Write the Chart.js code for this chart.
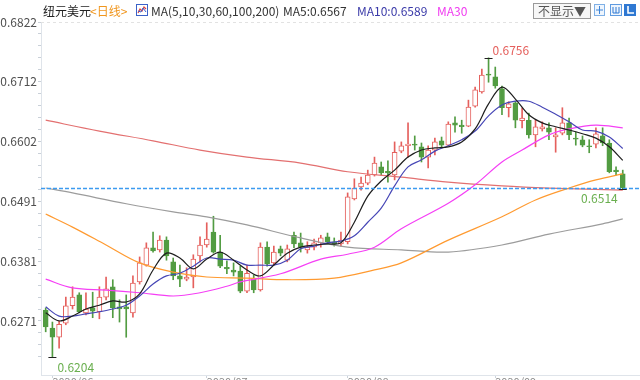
<!DOCTYPE html>
<html lang="zh">
<head>
<meta charset="UTF-8">
<script src="https://cdn.jsdelivr.net/npm/chart.js"></script>
<title>纽元美元 日线</title>
<style>
    html, body { margin: 0; padding: 0; background: #fff; }
    #wrap { position: relative; width: 640px; height: 380px; overflow: hidden; }
    #kline { position: absolute; left: 0; top: 0; }
    .lg { position: absolute; top: 3px; font: 12px "Noto Sans CJK SC", "Noto Sans", sans-serif; line-height: 16px; white-space: nowrap; color: #333; }
    .box { position: absolute; top: 3px; left: 533px; width: 56px; height: 14px; border: 1px solid #9a9a9a; background: #f7f7f7;
           font: 12px "Noto Sans CJK SC", sans-serif; line-height: 14px; color: #555; text-align: center; }
    .ico { position: absolute; top: 4px; }
</style>
</head>
<body>
<div id="wrap">
    <canvas id="kline" width="640" height="395"></canvas>

    <span class="lg" style="left:43px;color:#222">纽元美元</span>
    <span class="lg" style="left:90px;color:#f0961e">&lt;日线&gt;</span>
    <svg class="ico" style="left:136px" width="12" height="12" viewBox="0 0 12 12">
        <rect x="0.5" y="0.5" width="11" height="11" fill="#fff" stroke="#3b62c9"/>
        <polyline points="2,9 4,5 6,7 8,3 10,5" fill="none" stroke="#e0413f" stroke-width="1.2"/>
        <polyline points="2,7 5,8 7,4 10,8" fill="none" stroke="#3b62c9" stroke-width="1"/>
    </svg>
    <span class="lg" style="left:151px">MA(5,10,30,60,100,200)</span>
    <span class="lg" style="left:283px">MA5:0.6567</span>
    <span class="lg" style="left:357px;color:#3a3aa8">MA10:0.6589</span>
    <span class="lg" style="left:437px;color:#f03cf0">MA30</span>

    <div class="box">不显示▼</div>
    <svg class="ico" style="left:594px" width="11" height="12" viewBox="0 0 11 12">
        <rect x="0.5" y="0.5" width="10" height="11" fill="#eef5fd" stroke="#7fb0e6"/>
        <path d="M5.5 2v8M2 6h7" stroke="#3c84d8" stroke-width="1"/>
    </svg>
    <svg class="ico" style="left:610px" width="12" height="12" viewBox="0 0 12 12">
        <rect x="0.5" y="0.5" width="11" height="11" fill="#eef5fd" stroke="#5d9ae0"/>
        <path d="M3 3v6h6V3M6 3v6" fill="none" stroke="#2f78d2" stroke-width="1"/>
    </svg>
    <svg class="ico" style="left:624px" width="12" height="12" viewBox="0 0 12 12">
        <rect x="0" y="0" width="12" height="12" fill="#2f78d2"/>
        <path d="M4 2v7h6" fill="none" stroke="#fff" stroke-width="1.6"/>
    </svg>
</div>

<script>
    // daily OHLC, index 1 = leftmost candle
    const opens = [
        0.6291, 0.6258, 0.6241, 0.6267, 0.6299, 0.6319, 0.6286, 0.6295, 0.6288, 0.6315,
        0.6334, 0.6297, 0.6297, 0.6286, 0.6343, 0.6374, 0.6406, 0.6402, 0.6420, 0.6380,
        0.6354, 0.6348, 0.6352, 0.6391, 0.6411, 0.6435, 0.6398, 0.6370, 0.6365, 0.6363,
        0.6326, 0.6348, 0.6328, 0.6407, 0.6378, 0.6404, 0.6383, 0.6429, 0.6415, 0.6402,
        0.6407, 0.6415, 0.6426, 0.6417, 0.6413, 0.6417, 0.6496, 0.6518, 0.6525, 0.6540,
        0.6555, 0.6547, 0.6540, 0.6584, 0.6594, 0.6597, 0.6592, 0.6573, 0.6586, 0.6603,
        0.6595, 0.6636, 0.6632, 0.6630, 0.6667, 0.6693, 0.6726, 0.6721, 0.6699, 0.6664,
        0.6673, 0.6640, 0.6641, 0.6614, 0.6625, 0.6627, 0.6610, 0.6617, 0.6636, 0.6608,
        0.6605, 0.6594, 0.6597, 0.6612, 0.6599, 0.6549, 0.6542
    ];
    const highs = [
        0.6295, 0.6269, 0.6271, 0.6315, 0.6334, 0.6323, 0.6323, 0.6324, 0.6334, 0.6352,
        0.6347, 0.6310, 0.6319, 0.6354, 0.6389, 0.6415, 0.6435, 0.6428, 0.6426, 0.6387,
        0.6374, 0.6369, 0.6393, 0.6426, 0.6452, 0.6464, 0.6429, 0.6382, 0.6378, 0.6372,
        0.6374, 0.6356, 0.6415, 0.6417, 0.6409, 0.6409, 0.6411, 0.6435, 0.6433, 0.6417,
        0.6422, 0.6429, 0.6433, 0.6424, 0.6435, 0.6507, 0.6533, 0.6536, 0.6549, 0.6573,
        0.6564, 0.6566, 0.6601, 0.6601, 0.6636, 0.6612, 0.6599, 0.6594, 0.6608, 0.6610,
        0.6638, 0.6647, 0.6641, 0.6678, 0.6702, 0.6735, 0.6756, 0.6739, 0.6704, 0.6675,
        0.6676, 0.6664, 0.6654, 0.6641, 0.6638, 0.6636, 0.6627, 0.6664, 0.6645, 0.6619,
        0.6612, 0.6605, 0.6627, 0.6627, 0.6605, 0.6555, 0.6549
    ];
    const lows = [
        0.6251, 0.6204, 0.6221, 0.6264, 0.6293, 0.6286, 0.6282, 0.6277, 0.6275, 0.6310,
        0.6277, 0.6269, 0.6241, 0.6278, 0.6339, 0.6372, 0.6398, 0.6398, 0.6383, 0.6347,
        0.6334, 0.6345, 0.6332, 0.6380, 0.6407, 0.6396, 0.6369, 0.6358, 0.6354, 0.6323,
        0.6323, 0.6323, 0.6326, 0.6372, 0.6374, 0.6391, 0.6380, 0.6406, 0.6398, 0.6396,
        0.6402, 0.6407, 0.6413, 0.6409, 0.6409, 0.6413, 0.6494, 0.6512, 0.6522, 0.6538,
        0.6540, 0.6527, 0.6531, 0.6581, 0.6573, 0.6586, 0.6564, 0.6553, 0.6577, 0.6592,
        0.6594, 0.6619, 0.6617, 0.6629, 0.6665, 0.6691, 0.6711, 0.6700, 0.6651, 0.6647,
        0.6627, 0.6627, 0.6608, 0.6592, 0.6621, 0.6605, 0.6582, 0.6614, 0.6605, 0.6595,
        0.6592, 0.6581, 0.6590, 0.6594, 0.6544, 0.6540, 0.6514
    ];
    const closes = [
        0.6260, 0.6241, 0.6265, 0.6299, 0.6315, 0.6288, 0.6293, 0.6289, 0.6315, 0.6330,
        0.6295, 0.6293, 0.6293, 0.6341, 0.6378, 0.6406, 0.6400, 0.6420, 0.6391, 0.6354,
        0.6348, 0.6352, 0.6385, 0.6411, 0.6422, 0.6398, 0.6372, 0.6367, 0.6361, 0.6326,
        0.6359, 0.6328, 0.6407, 0.6376, 0.6398, 0.6396, 0.6404, 0.6413, 0.6407, 0.6407,
        0.6415, 0.6424, 0.6417, 0.6413, 0.6420, 0.6500, 0.6516, 0.6525, 0.6540, 0.6562,
        0.6544, 0.6544, 0.6582, 0.6594, 0.6597, 0.6595, 0.6573, 0.6586, 0.6601, 0.6595,
        0.6634, 0.6632, 0.6629, 0.6665, 0.6697, 0.6724, 0.6724, 0.6704, 0.6664, 0.6671,
        0.6641, 0.6645, 0.6614, 0.6629, 0.6629, 0.6619, 0.6614, 0.6636, 0.6614, 0.6606,
        0.6595, 0.6592, 0.6616, 0.6599, 0.6546, 0.6546, 0.6516
    ];

    // moving averages at the given candle indices
    const maIdx = [1, 3, 5, 7, 9, 11, 13, 15, 17, 19, 21, 23, 25, 27, 29, 31, 33, 35, 37, 39, 41, 43,
                   45, 47, 49, 51, 53, 55, 57, 59, 61, 63, 65, 67, 69, 71, 73, 75, 77, 79, 81, 83, 85, 87];
    const ma5 = [0.6286, 0.6271, 0.6280, 0.6293, 0.6300, 0.6308, 0.6306, 0.6321, 0.6365, 0.6396, 0.6387,
                 0.6367, 0.6385, 0.6398, 0.6383, 0.6365, 0.6354, 0.6374, 0.6396, 0.6407, 0.6411, 0.6413,
                 0.6415, 0.6453, 0.6501, 0.6529, 0.6549, 0.6573, 0.6586, 0.6590, 0.6592, 0.6601, 0.6625,
                 0.6671, 0.6702, 0.6680, 0.6651, 0.6636, 0.6629, 0.6623, 0.6616, 0.6608, 0.6592, 0.6567];
    const ma10 = [0.6297, 0.6280, 0.6280, 0.6284, 0.6288, 0.6293, 0.6300, 0.6317, 0.6339, 0.6354, 0.6359,
                  0.6372, 0.6387, 0.6385, 0.6383, 0.6374, 0.6374, 0.6374, 0.6383, 0.6404, 0.6409, 0.6415,
                  0.6418, 0.6428, 0.6453, 0.6479, 0.6520, 0.6555, 0.6568, 0.6584, 0.6594, 0.6605, 0.6621,
                  0.6649, 0.6669, 0.6676, 0.6676, 0.6665, 0.6652, 0.6638, 0.6623, 0.6621, 0.6610, 0.6589];
    const ma30Idx = [1, 5, 10, 15, 20, 24, 28, 30, 36, 42, 46, 50, 54, 61, 65, 69, 72, 76, 79, 83, 87];
    const ma30 = [0.6348, 0.6332, 0.6328, 0.6323, 0.6317, 0.6323, 0.6335, 0.6343, 0.6358, 0.6385, 0.6394,
                  0.6407, 0.6441, 0.6488, 0.6522, 0.6564, 0.6586, 0.6614, 0.6625, 0.6632, 0.6627];
    const ma60Idx = [1, 5, 10, 15, 20, 25, 31, 37, 44, 50, 54, 61, 69, 74, 79, 83, 87];
    const ma60 = [0.6468, 0.6444, 0.6411, 0.6378, 0.6361, 0.6352, 0.6350, 0.6347, 0.6350, 0.6365, 0.6378,
                  0.6420, 0.6463, 0.6494, 0.6516, 0.6531, 0.6542];
    const ma100Idx = [1, 5, 13, 20, 25, 31, 39, 46, 54, 61, 69, 76, 84, 87];
    const ma100 = [0.6516, 0.6507, 0.6487, 0.6472, 0.6463, 0.6448, 0.6424, 0.6407, 0.6402, 0.6398, 0.6411,
                   0.6431, 0.6450, 0.6459];
    const ma200Idx = [1, 9, 17, 24, 31, 39, 46, 54, 61, 69, 76, 87];
    const ma200 = [0.6641, 0.6621, 0.6603, 0.6586, 0.6573, 0.6562, 0.6546, 0.6536, 0.6527, 0.6520, 0.6516, 0.6512];

    // axis ticks
    const yTickVals = [0.6271, 0.6381, 0.6491, 0.6602, 0.6712, 0.6822];
    const yTickLabels = ['0.6271', '0.6381', '0.6491', '0.6602', '0.6712', '0.6822'];
    const xTickIdx = [2, 25, 46, 68];
    const xTickLabels = ['2020/06', '2020/07', '2020/08', '2020/09'];

    const RED = '#e5605d';
    const GREEN = '#529c42';
    const FONT = '"Noto Sans CJK SC", "Noto Sans", sans-serif';
    Chart.defaults.font.family = FONT;

    const isUp = i => closes[i] >= opens[i];

    function maLine(label, idx, vals, color, order) {
        return {
            type: 'line',
            label: label,
            data: idx.map((x, k) => ({ x: x, y: vals[k] })),
            borderColor: color,
            borderWidth: 1.2,
            pointRadius: 0,
            tension: 0.35,
            order: order
        };
    }

    // dashed top border, last-price line, high / low markers
    const overlay = {
        id: 'overlay',
        afterDatasetsDraw(chart) {
            const { ctx, chartArea: a, scales: { x, y } } = chart;
            ctx.save();

            let py = Math.round(y.getPixelForValue(y.max)) + 0.5;
            ctx.setLineDash([3, 3]);
            ctx.strokeStyle = '#e2e2e2';
            ctx.lineWidth = 1;
            ctx.beginPath(); ctx.moveTo(a.left, py); ctx.lineTo(a.right, py); ctx.stroke();

            const last = closes.length - 1;
            py = Math.round(y.getPixelForValue(closes[last])) + 0.5;
            ctx.setLineDash([4, 2]);
            ctx.strokeStyle = '#3d9bf0';
            ctx.lineWidth = 1.3;
            ctx.beginPath(); ctx.moveTo(a.left, py); ctx.lineTo(a.right, py); ctx.stroke();
            ctx.setLineDash([]);

            ctx.font = '12px ' + FONT;
            ctx.textBaseline = 'middle';

            function marker(i, val, color, align, dx, dy) {
                const px = x.getPixelForValue(i + 1);
                const vy = Math.round(y.getPixelForValue(val)) + 0.5;
                ctx.strokeStyle = '#222';
                ctx.lineWidth = 1;
                ctx.beginPath(); ctx.moveTo(px - 4, vy); ctx.lineTo(px + 4, vy); ctx.stroke();
                ctx.fillStyle = color;
                ctx.textAlign = align;
                ctx.fillText(val.toFixed(4), px + dx, vy + dy);
            }

            const hi = highs.indexOf(Math.max(...highs));
            const lo = lows.indexOf(Math.min(...lows));
            marker(hi, highs[hi], RED, 'left', 4, -8);
            marker(lo, lows[lo], '#6aaf4f', 'left', 5, 10);
            marker(last, lows[last], '#6aaf4f', 'right', -5, 9);

            ctx.restore();
        }
    };

    const ctx = document.getElementById('kline').getContext('2d');
    const chart = new Chart(ctx, {
        type: 'bar',
        data: {
            datasets: [
                {
                    label: 'wick',
                    data: lows.map((l, i) => ({ x: i + 1, y: [l, highs[i]] })),
                    backgroundColor: c => isUp(c.dataIndex) ? RED : GREEN,
                    barThickness: 1,
                    grouped: false,
                    order: 10
                },
                {
                    label: 'body',
                    data: opens.map((o, i) => ({ x: i + 1, y: [o, closes[i]] })),
                    backgroundColor: c => isUp(c.dataIndex) ? '#ffffff' : GREEN,
                    borderColor: c => isUp(c.dataIndex) ? RED : GREEN,
                    borderWidth: 1,
                    borderSkipped: false,
                    barThickness: 5,
                    grouped: false,
                    order: 9
                },
                maLine('MA200', ma200Idx, ma200, '#e37070', 6),
                maLine('MA100', ma100Idx, ma100, '#9c9c9c', 5),
                maLine('MA60', ma60Idx, ma60, '#ff9a30', 4),
                maLine('MA30', ma30Idx, ma30, '#f53ff5', 3),
                maLine('MA10', maIdx, ma10, '#4646b6', 2),
                maLine('MA5', maIdx, ma5, '#1e1e1e', 1)
            ]
        },
        options: {
            responsive: false,
            animation: false,
            layout: { padding: { top: 22, left: 0, right: 0, bottom: 0 } },
            plugins: { legend: { display: false }, tooltip: { enabled: false } },
            scales: {
                x: {
                    type: 'linear',
                    offset: false,
                    min: 0.3,
                    max: 89.57,
                    afterBuildTicks: s => { s.ticks = xTickIdx.map(v => ({ value: v })); },
                    afterFit: s => { s.height = 20; },
                    ticks: {
                        callback: v => xTickLabels[xTickIdx.indexOf(v)],
                        align: 'start',
                        autoSkip: false,
                        maxRotation: 0,
                        padding: -3,
                        color: '#8a8a8a',
                        font: { size: 11 }
                    },
                    grid: { offset: false, drawOnChartArea: false, tickLength: 3, tickColor: '#cdd4dc' },
                    border: { color: '#dfe4ea' }
                },
                y: {
                    type: 'linear',
                    min: 0.61714,
                    max: 0.6822,
                    afterBuildTicks: s => {
                        const step = (yTickVals[1] - yTickVals[0]) / 5;
                        const t = [];
                        for (let v = yTickVals[0] - step * 3; v < yTickVals[0] - step / 2; v += step) t.push({ value: v });
                        for (let j = 0; j < yTickVals.length; j++) {
                            t.push({ value: yTickVals[j] });
                            if (j < yTickVals.length - 1) {
                                const d = (yTickVals[j + 1] - yTickVals[j]) / 5;
                                for (let k = 1; k < 5; k++) t.push({ value: yTickVals[j] + d * k });
                            }
                        }
                        s.ticks = t;
                    },
                    afterFit: s => { s.width = 41; },
                    ticks: {
                        callback: v => {
                            const j = yTickVals.findIndex(m => Math.abs(m - v) < 1e-7);
                            return j >= 0 ? yTickLabels[j] : '';
                        },
                        autoSkip: false,
                        padding: 1,
                        color: '#505050',
                        font: { size: 12 }
                    },
                    grid: { drawOnChartArea: false, tickLength: 3, tickColor: '#c9d0d8' },
                    border: { color: '#dfe4ea' }
                }
            }
        },
        plugins: [overlay]
    });
</script>
</body>
</html>
